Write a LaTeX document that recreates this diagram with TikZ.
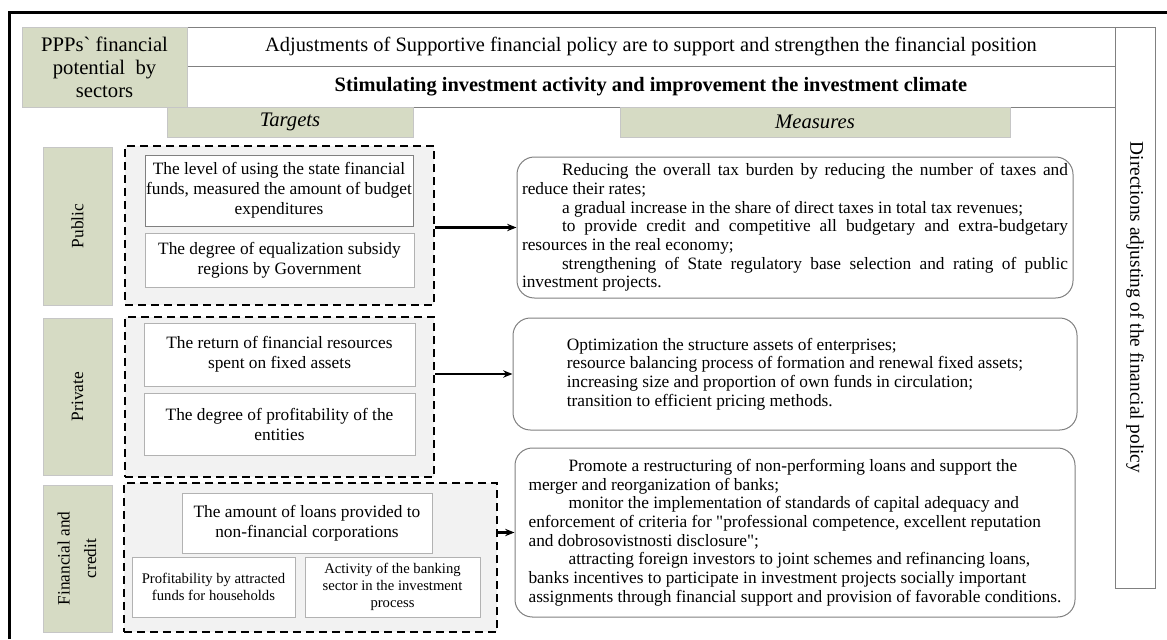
\documentclass[tikz,border=0pt]{standalone}
\usepackage{fontspec}
\setmainfont{Liberation Serif}[Ligatures=TeXOff]
\usetikzlibrary{arrows.meta}

\definecolor{sage}{RGB}{214,219,196}
\definecolor{grpfill}{RGB}{242,242,242}
\definecolor{rulegray}{RGB}{128,128,128}

\tikzset{every picture/.style={line width=0.75pt}}
\tikzset{
  sagebox/.style={fill=sage, draw=gray!45, inner sep=0pt, align=center},
  sectbox/.style={sagebox, minimum width=51.75pt, font=\fontsize{13}{20}\selectfont},
  rowbox/.style={draw=rulegray, inner sep=0pt, minimum width=696pt},
  grpbox/.style={draw=black, fill=grpfill, dash pattern={on 6pt off 3.75pt}, line width=1.5pt, inner sep=0pt},
  tgtbox/.style={draw=gray!60, fill=white, inner sep=0pt, align=center, font=\fontsize{13}{15}\selectfont},
  smallbox/.style={tgtbox, font=\fontsize{11}{12.5}\selectfont},
  msrbox/.style={draw=rulegray, rounded corners=13pt, fill=white, inner sep=0pt, font=\fontsize{13}{14}\selectfont},
  toarrow/.style={line width=1.8pt, -{Stealth[length=7pt,width=5.5pt]}},
}

\begin{document}
\begin{tikzpicture}[x=0.75pt,y=0.75pt,yscale=-1,xscale=1]
\useasboundingbox (0,0) rectangle (1167,639);

%Straight Lines (outer frame)
\draw [line width=2.25pt] (9,639) -- (9,12) -- (1167,12) ;

%Shape: Rectangle
\draw (1135,307.5) node [draw=rulegray, inner sep=0pt, minimum width=30pt, minimum height=420.75pt, font=\fontsize{14.5}{16}\selectfont] (dirs) {\rotatebox{-90}{Directions adjusting of the financial policy}};
%Shape: Rectangle
\draw (651,46.5) node [rowbox, minimum height=29.25pt, font=\fontsize{15.3}{17}\selectfont] (policy) {Adjustments of Supportive financial policy are to support and strengthen the financial position};
%Shape: Rectangle
\draw (651,86.5) node [rowbox, minimum height=30.75pt, font=\bfseries\fontsize{15.3}{17}\selectfont] (aim) {Stimulating investment activity and improvement the investment climate};
%Shape: Rectangle
\draw (104.5,67) node [sagebox, minimum width=123.75pt, minimum height=60pt, font=\fontsize{15.5}{17.25}\selectfont] (potential) {PPPs` financial\\potential~ by\\sectors};

% Text Node
\draw (290,122) node [sagebox, minimum width=184.5pt, minimum height=22.5pt, font=\itshape\fontsize{15.5}{17}\selectfont] (targets) {Targets};
% Text Node
\draw (815,122) node [sagebox, minimum width=292.5pt, minimum height=22.5pt, font=\itshape\fontsize{15.5}{17}\selectfont] (measures) {Measures};

%Shape: Rectangle (sectors)
\draw (77.5,226) node [sectbox, minimum height=118.5pt] (public) {\rotatebox{90}{Public}};
\draw (77.5,396.5) node [sectbox, minimum height=117.75pt] (private) {\rotatebox{90}{Private}};
\draw (77.5,558.5) node [sectbox, minimum height=110.25pt] (fincredit) {\rotatebox{90}{\begin{tabular}{@{}c@{}}Financial and\\credit\end{tabular}}};

%Shape: Rectangle (dashed groups)
\draw (279.5,225.5) node [grpbox, minimum width=231.75pt, minimum height=119.25pt] (pubgrp) {};
\draw (279.5,397) node [grpbox, minimum width=231.75pt, minimum height=120pt] (prigrp) {};
\draw (310.5,557.5) node [grpbox, minimum width=279.75pt, minimum height=111.75pt] (fingrp) {};

% Text Node
\draw (279,190.5) node [tgtbox, draw=gray, minimum width=201pt, minimum height=53.25pt] (statefunds) {The level of using the state financial\\funds, measured the amount of budget\\expenditures};
% Text Node
\draw (279.5,260) node [tgtbox, minimum width=201.75pt, minimum height=40.5pt] (subsidy) {The degree of equalization subsidy\\regions by Government};
% Text Node
\draw (279.5,354.5) node [tgtbox, minimum width=203.25pt, minimum height=47.25pt] (fixedassets) {The return of financial resources\\spent on fixed assets};
% Text Node
\draw (279.5,424) node [tgtbox, minimum width=203.25pt, minimum height=46.5pt] (entities) {The degree of profitability of the\\entities};
% Text Node
\draw (307,523) node [tgtbox, minimum width=187.5pt, minimum height=45pt] (loans) {The amount of loans provided to\\non-financial corporations};
% Text Node
\draw (213.5,587) node [smallbox, minimum width=122.25pt, minimum height=45pt] (households) {Profitability by attracted\\funds for households};
% Text Node
\draw (392.5,587) node [smallbox, minimum width=131.25pt, minimum height=45pt] (banking) {Activity of the banking\\sector in the investment\\process};

%Shape: Rounded Rectangle (measures)
\draw (795,227.5) node [msrbox, minimum width=417pt, minimum height=105.75pt, text width=409.5pt, inner xsep=3.75pt, align=justify] (taxmsr) {\parindent=0pt
\hspace*{30pt}Reducing the overall tax burden by reducing the number of taxes and\linebreak reduce their rates;\par
\hspace*{30pt}a gradual increase in the share of direct taxes in total tax revenues;\par
\hspace*{30pt}to provide credit and competitive all budgetary and extra-budgetary\linebreak resources in the real economy;\par
\hspace*{30pt}strengthening of State regulatory base selection and rating of public\linebreak investment projects.\par};
\draw (795,374) node [msrbox, minimum width=423pt, minimum height=84pt, align=left] (assetmsr) {Optimization the structure assets of enterprises;\\resource balancing process of formation and renewal fixed assets;\\increasing size and proportion of own funds in circulation;\\transition to efficient pricing methods.};
\draw (795,532.5) node [msrbox, minimum width=420pt, minimum height=126.75pt, align=left] (bankmsr) {\hspace*{30pt}Promote a restructuring of non-performing loans and support the\\merger and reorganization of banks;\\\hspace*{30pt}monitor the implementation of standards of capital adequacy and\\enforcement of criteria for "professional competence, excellent reputation\\and dobrosovistnosti disclosure";\\\hspace*{30pt}attracting foreign investors to joint schemes and refinancing loans,\\banks incentives to participate in investment projects socially important\\assignments through financial support and provision of favorable conditions.};

%Straight Lines (arrows)
\draw [toarrow] (taxmsr.west -| pubgrp.east) -- (taxmsr.west) ;
\draw [toarrow] (assetmsr.west -| prigrp.east) -- (assetmsr.west) ;
\draw [toarrow] (bankmsr.west -| fingrp.east) -- (bankmsr.west) ;

\end{tikzpicture}
\end{document}
